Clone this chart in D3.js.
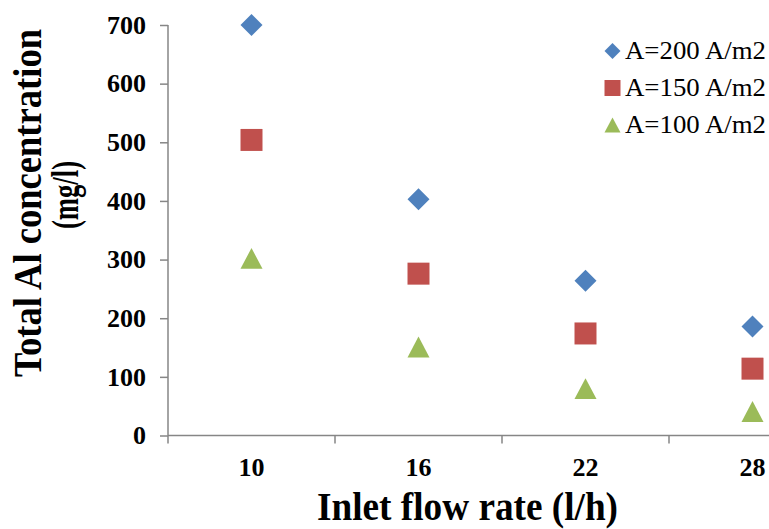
<!DOCTYPE html>
<html>
<head>
<meta charset="utf-8">
<script src="https://cdn.jsdelivr.net/npm/d3@7"></script>
<style>
html,body{margin:0;padding:0;background:#fff;}
svg{display:block;}
text{font-family:"Liberation Serif","Times New Roman",serif;}
</style>
</head>
<body>
<svg id="chart" width="769" height="529"></svg>
<script>
const categories = ["10", "16", "22", "28"];
const a200 = [700, 403, 264, 186];
const a150 = [504, 276, 174, 114];
const a100 = [302, 151, 80, 41];
const yTicks = [0, 100, 200, 300, 400, 500, 600, 700];
const seriesNames = ["A=200 A/m2", "A=150 A/m2", "A=100 A/m2"];

const series = [
  {name: seriesNames[0], values: a200, shape: "diamond", color: "#4F81BD"},
  {name: seriesNames[1], values: a150, shape: "square", color: "#C0504D"},
  {name: seriesNames[2], values: a100, shape: "triangle", color: "#9BBB59"}
];

const svg = d3.select("#chart");
const axisColor = "#868686";

const x = d3.scaleBand().domain(categories).range([168, 836]).padding(0);
const y = d3.scaleLinear().domain([0, 700]).range([435.5, 25]);

function shapePath(shape, s) {
  const h = s / 2;
  const p = d3.path();
  if (shape === "diamond") {
    p.moveTo(0, -h); p.lineTo(h, 0); p.lineTo(0, h); p.lineTo(-h, 0); p.closePath();
  } else if (shape === "square") {
    p.rect(-h, -h, s, s);
  } else {
    const th = s * 0.95 / 2;
    p.moveTo(0, -th); p.lineTo(h, th); p.lineTo(-h, th); p.closePath();
  }
  return p.toString();
}

// Y axis
const yAxis = d3.axisLeft(y).tickValues(yTicks).tickSize(8).tickPadding(14).tickFormat(d3.format("d"));
const gy = svg.append("g").attr("transform", "translate(168,0)").call(yAxis);
gy.select(".domain").attr("stroke", axisColor).attr("stroke-width", 1.5).attr("d", "M0," + y(0) + "V" + y(700));
gy.selectAll(".tick line").attr("stroke", axisColor).attr("stroke-width", 1.5);
gy.selectAll(".tick text").attr("font-size", 26).attr("font-weight", "bold").attr("fill", "#000")
  .attr("font-family", "Liberation Serif");

// X axis
const xAxis = d3.axisBottom(x).tickSize(0).tickPadding(0);
const gx = svg.append("g").attr("transform", "translate(0," + y(0) + ")").call(xAxis);
gx.select(".domain").attr("stroke", axisColor).attr("stroke-width", 1.5).attr("d", "M168,0H836");
gx.selectAll(".tick text").attr("font-size", 26).attr("font-weight", "bold").attr("fill", "#000")
  .attr("font-family", "Liberation Serif").attr("dy", null).attr("y", 40.5);
const bounds = categories.map(c => x(c)).concat([x(categories[categories.length - 1]) + x.bandwidth()]);
gx.selectAll("line.bound").data(bounds).enter().append("line").attr("class", "bound")
  .attr("x1", d => d).attr("x2", d => d).attr("y1", 0).attr("y2", 8)
  .attr("stroke", axisColor).attr("stroke-width", 1.5);

// Points
series.forEach(s => {
  svg.append("g").selectAll("path").data(s.values).enter().append("path")
    .attr("d", shapePath(s.shape, 22))
    .attr("transform", (d, i) => "translate(" + (x(categories[i]) + x.bandwidth() / 2) + "," + y(d) + ")")
    .attr("fill", s.color);
});

// Legend
const legend = svg.append("g");
const legendRows = [51, 88, 125];
series.forEach((s, i) => {
  const g = legend.append("g").attr("transform", "translate(612.5," + legendRows[i] + ")");
  g.append("path").attr("d", shapePath(s.shape, 16)).attr("fill", s.color);
  g.append("text").attr("x", 12.5).attr("y", 8).attr("font-size", 25)
    .attr("textLength", 141).attr("lengthAdjust", "spacingAndGlyphs")
    .attr("fill", "#000").text(s.name);
});

// Axis titles
svg.append("text").attr("x", 467.5).attr("y", 520).attr("text-anchor", "middle")
  .attr("font-size", 39).attr("font-weight", "bold").attr("fill", "#000")
  .attr("textLength", 301).attr("lengthAdjust", "spacingAndGlyphs")
  .text("Inlet flow rate (l/h)");

svg.append("text").attr("transform", "translate(41,203) rotate(-90)").attr("text-anchor", "middle")
  .attr("font-size", 39).attr("font-weight", "bold").attr("fill", "#000")
  .attr("textLength", 348).attr("lengthAdjust", "spacingAndGlyphs")
  .text("Total Al concentration");
svg.append("text").attr("transform", "translate(78,195) rotate(-90)").attr("text-anchor", "middle")
  .attr("font-size", 38).attr("font-weight", "bold").attr("fill", "#000")
  .attr("textLength", 68).attr("lengthAdjust", "spacingAndGlyphs")
  .text("(mg/l)");
</script>
</body>
</html>
